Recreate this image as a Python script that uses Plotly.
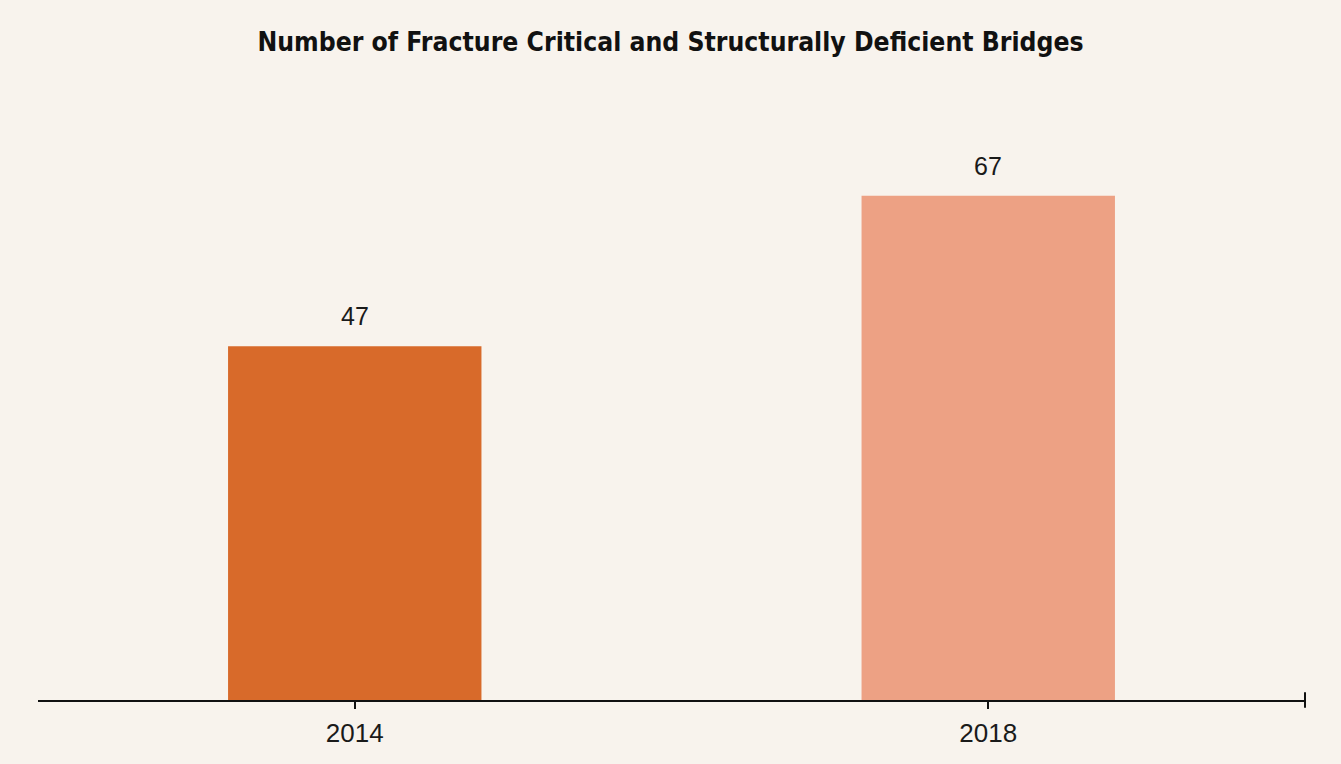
import plotly.graph_objects as go

categories = ["2014", "2018"]
values = [47, 67]
bar_colors = ["#D86A2A", "#EDA184"]
title_text = "Number of Fracture Critical and Structurally Deficient Bridges"

bg = "#F8F3ED"

fig = go.Figure()
fig.add_trace(go.Bar(
    x=categories,
    y=values,
    marker=dict(color=bar_colors, line=dict(width=0)),
    width=0.4,
    hoverinfo="x+y",
))

for i, v in enumerate(values):
    fig.add_annotation(
        x=i, y=v, text=str(v), showarrow=False,
        yanchor="bottom", yshift=14,
        font=dict(family="Liberation Sans, Arial, sans-serif", size=25, color="#1a1a1a"),
    )

# right-end tick mark on the axis line
fig.add_shape(type="line", xref="x domain", yref="paper",
              x0=1, x1=1, y0=-0.013, y1=0.013,
              line=dict(color="#111111", width=2))

fig.update_layout(
    width=1341, height=764,
    paper_bgcolor=bg, plot_bgcolor=bg,
    margin=dict(l=38, r=36, t=98, b=64),
    title=dict(
        text=title_text, x=0.5, xanchor="center", y=0.945, yanchor="middle",
        font=dict(family="DejaVu Sans Condensed, sans-serif",
                  size=26.3, color="#111111", weight="bold"),
    ),
    showlegend=False,
    bargap=0.6,
    xaxis=dict(
        type="category",
        range=[-0.5, 1.5],
        showline=True, linecolor="#111111", linewidth=2,
        ticks="outside", ticklen=7, tickwidth=2, tickcolor="#111111",
        ticklabelstandoff=2,
        tickfont=dict(family="Liberation Sans, Arial, sans-serif", size=26, color="#1a1a1a"),
        showgrid=False, zeroline=False,
    ),
    yaxis=dict(
        range=[0, 80], visible=False, showgrid=False, zeroline=False,
    ),
)

fig.write_html(
    "out.html",
    config={"displayModeBar": False},
    post_script="document.body.style.margin='0';document.body.style.background='" + bg + "';",
)
